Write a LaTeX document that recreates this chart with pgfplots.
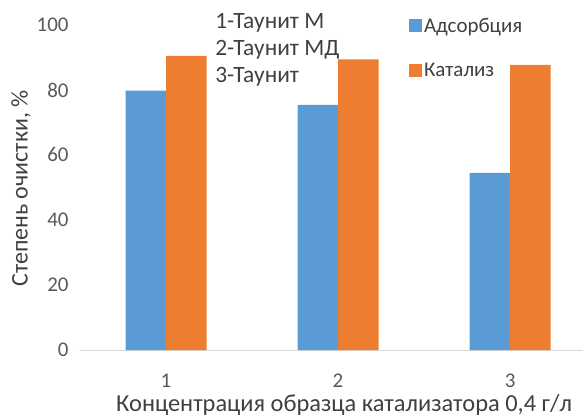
\documentclass[border=0pt]{standalone}
\usepackage{fontspec}
\setmainfont{Carlito}
\usepackage{pgfplots}
\pgfplotsset{compat=1.18}
\definecolor{cblue}{HTML}{5B9BD5}
\definecolor{corange}{HTML}{ED7D31}
\definecolor{axgray}{HTML}{D9D9D9}
\definecolor{txt}{HTML}{404040}
\definecolor{tick}{HTML}{595959}
\pgfplotsset{sqleg/.style={legend image code/.code={\fill[##1] (0bp,-6.5bp) rectangle (13bp,6.5bp);}}}
\begin{document}
\begin{tikzpicture}
\begin{axis}[name=ax, scale only axis, width=503bp, height=325bp,
  xmin=0.5, xmax=3.424, ymin=0, ymax=100,
  ybar=0pt, bar width=40.5bp,
  axis lines*=left,
  y axis line style={draw=none},
  x axis line style={axgray, line width=1pt, -},
  tick style={draw=none},
  xtick={1,2,3}, ytick={0,20,40,60,80,100},
  /pgf/number format/assume math mode=true,
  tick label style={font=\fontsize{21}{21}\selectfont, text=tick},
  yticklabel style={xshift=-8bp},
  xticklabel style={inner sep=0.5bp, yshift=-19bp},
  clip=false,
  xlabel={Концентрация образца катализатора 0,4 г/л},
  ylabel={Степень очистки, \%},
  xlabel style={at={(axis description cs:0.525,0)}, anchor=center, inner sep=0.5bp, yshift=-55bp, font=\fontsize{24.5}{24.5}\selectfont, text=txt},
  ylabel style={at={(axis description cs:0,0.497)}, anchor=center, yshift=59bp, font=\fontsize{24}{24}\selectfont, text=txt},
  legend style={at={(rel axis cs:0.648,1.035)}, anchor=north west, draw=none, fill=none,
    font=\fontsize{21}{21}\selectfont, text=txt, row sep=26bp, legend cell align=left},
]
\addplot[fill=cblue, draw=none, sqleg] coordinates {(1,79.8) (2,75.4) (3,54.5)};
\addlegendentry{Адсорбция}
\addplot[fill=corange, draw=none, sqleg] coordinates {(1,90.5) (2,89.4) (3,87.7)};
\addlegendentry{Катализ}
\node[anchor=west, font=\fontsize{23.5}{23.5}\selectfont, text=txt] at (rel axis cs:0.262,1.006) {1-Таунит М};
\node[anchor=west, font=\fontsize{23.5}{23.5}\selectfont, text=txt] at (rel axis cs:0.262,0.923) {2-Таунит МД};
\node[anchor=west, font=\fontsize{23.5}{23.5}\selectfont, text=txt] at (rel axis cs:0.262,0.840) {3-Таунит};
\end{axis}
\pgfresetboundingbox
\path[use as bounding box] ([xshift=-80bp,yshift=-66bp]ax.south west) rectangle ([yshift=25bp]ax.north east);
\end{tikzpicture}
\end{document}
